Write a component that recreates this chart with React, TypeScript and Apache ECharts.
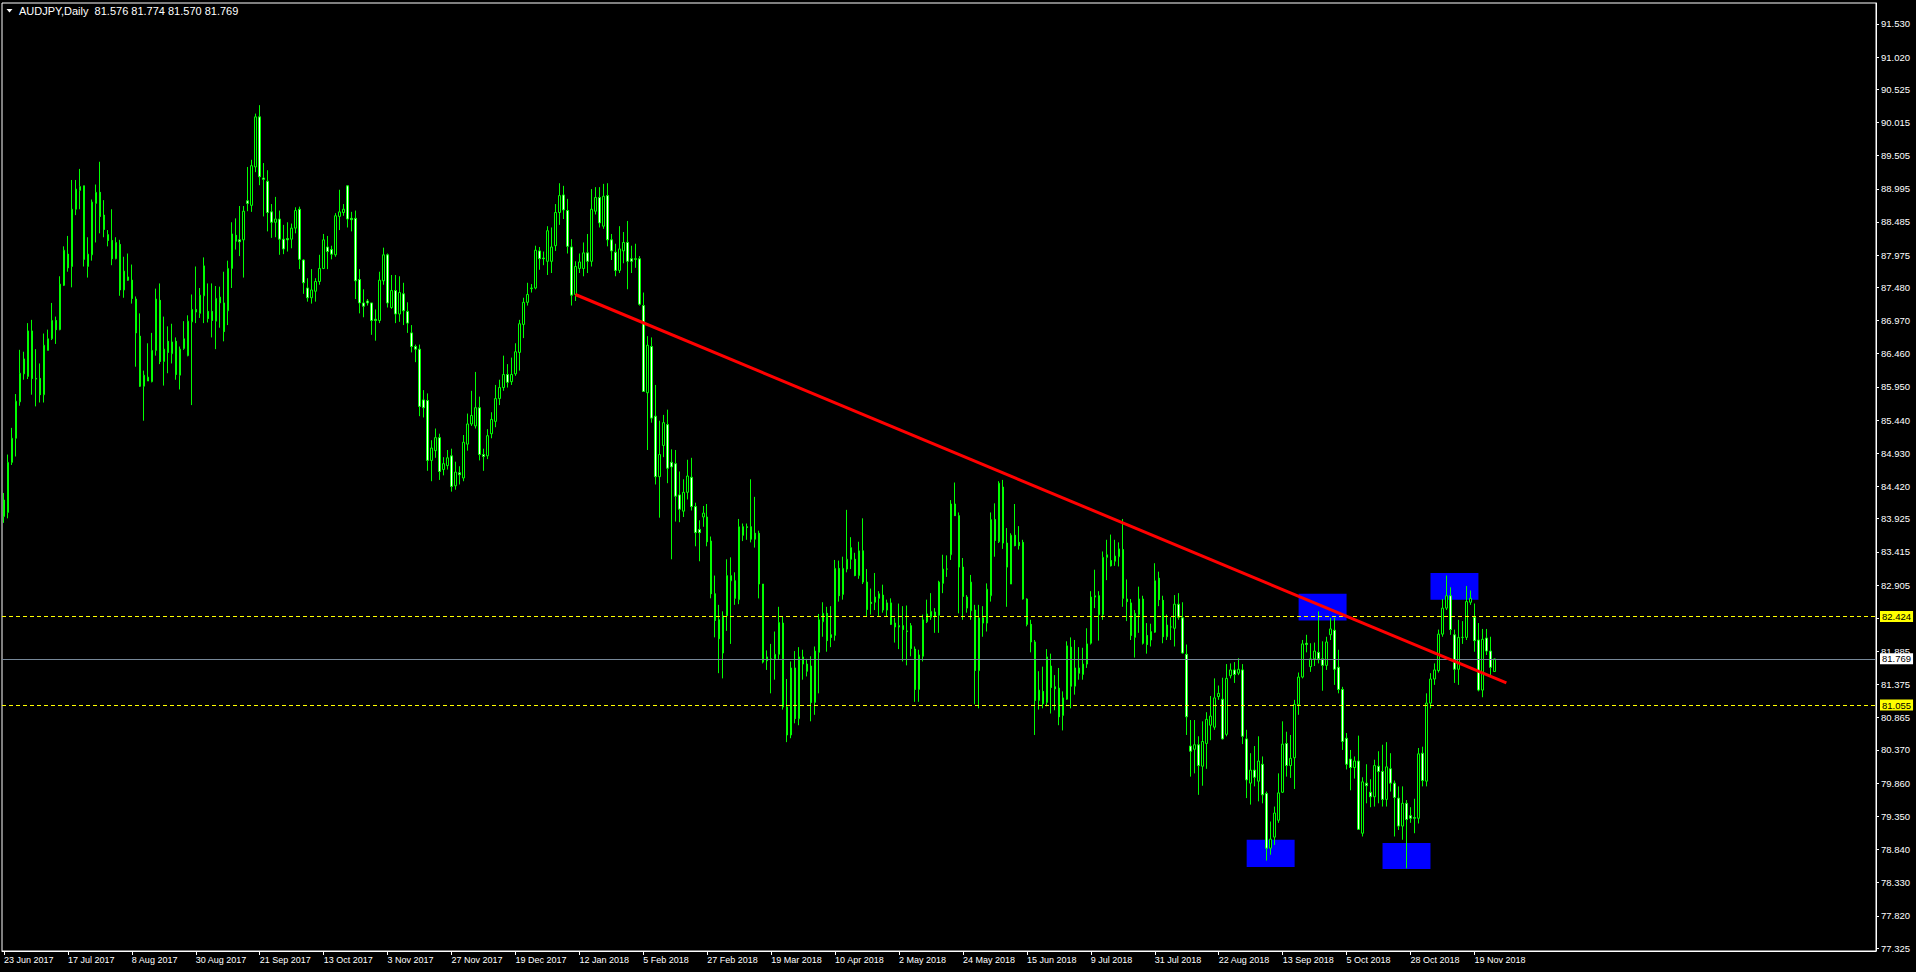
import React, { useEffect, useRef } from 'react';
import * as echarts from 'echarts';

const symbolName = 'AUDJPY,Daily';

const dateLabels = [
  '23 Jun 2017', '17 Jul 2017', '8 Aug 2017', '30 Aug 2017', '21 Sep 2017', '13 Oct 2017',
  '3 Nov 2017', '27 Nov 2017', '19 Dec 2017', '12 Jan 2018', '5 Feb 2018', '27 Feb 2018',
  '19 Mar 2018', '10 Apr 2018', '2 May 2018', '24 May 2018', '15 Jun 2018', '9 Jul 2018',
  '31 Jul 2018', '22 Aug 2018', '13 Sep 2018', '5 Oct 2018', '28 Oct 2018', '19 Nov 2018',
];
const barsPerLabel = 16;
const barSlots = 469;

const yTickLabels = [
  '91.530', '91.020', '90.525', '90.015', '89.505', '88.995', '88.485', '87.975', '87.480',
  '86.970', '86.460', '85.950', '85.440', '84.930', '84.420', '83.925', '83.415', '82.905',
  '82.395', '81.885', '81.375', '80.865', '80.370', '79.860', '79.350', '78.840', '78.330',
  '77.820', '77.325',
];
const priceMin = 77.28;
const priceMax = 91.85;

// [open, high, low, close]
const candlesJun17Sep17 = [
  [84.21, 84.32, 83.86, 83.96], [84.02, 84.91, 83.93, 84.79], [84.79, 85.32, 84.75, 85.16], [85.16, 85.84, 84.88, 85.73],
  [85.72, 86.52, 85.66, 86.16], [86.15, 86.49, 86.06, 86.38], [86.11, 86.93, 86.07, 86.81], [86.81, 86.98, 85.83, 86.08],
  [86.08, 86.53, 85.65, 86.07], [86.08, 86.31, 85.71, 85.83], [85.83, 86.77, 85.71, 86.59], [86.51, 86.83, 86.51, 86.69],
  [86.69, 87.24, 86.67, 86.97], [86.97, 87.03, 86.61, 86.83], [86.83, 87.65, 86.82, 87.53], [87.51, 88.11, 87.50, 88.05],
  [87.99, 88.27, 87.72, 87.78], [87.80, 89.13, 87.48, 88.68], [88.68, 89.13, 88.59, 88.99], [88.97, 89.30, 88.68, 89.03],
  [89.04, 89.04, 87.80, 87.91], [87.80, 88.25, 87.63, 87.99], [87.98, 88.83, 87.89, 88.79], [88.77, 89.06, 88.17, 88.94],
  [88.94, 89.41, 88.31, 88.57], [88.59, 88.82, 88.25, 88.37], [88.29, 88.36, 88.11, 88.20], [88.20, 88.68, 87.82, 87.92],
  [87.92, 88.25, 87.91, 88.17], [88.14, 88.21, 87.35, 87.44], [87.44, 87.95, 87.32, 87.73], [87.64, 88.00, 87.58, 87.59],
  [87.59, 87.83, 87.23, 87.31], [87.30, 87.34, 86.26, 86.78], [86.73, 87.08, 85.95, 85.96], [85.96, 86.20, 85.43, 86.13],
  [86.04, 86.62, 86.04, 86.10], [86.03, 86.78, 86.02, 86.51], [86.51, 87.46, 86.43, 87.30], [87.28, 87.54, 86.30, 86.34],
  [86.34, 87.03, 85.97, 86.53], [86.65, 86.88, 86.16, 86.48], [86.46, 86.92, 86.31, 86.64], [86.65, 86.71, 86.06, 86.14],
  [86.13, 86.57, 85.91, 86.53], [86.54, 86.96, 86.52, 86.69], [86.43, 87.05, 86.42, 86.96], [86.95, 87.37, 85.67, 87.14],
  [87.14, 87.80, 86.93, 87.10], [87.08, 87.47, 87.01, 87.36],
];
const candlesSep17Nov17 = [
  [87.35, 87.94, 86.93, 87.81], [87.11, 87.54, 86.94, 87.00], [87.11, 87.54, 86.71, 86.97], [86.96, 87.50, 86.53, 87.31],
  [87.24, 87.49, 86.86, 87.33], [87.24, 87.72, 86.65, 86.80], [87.12, 87.89, 86.90, 87.77], [87.77, 88.48, 87.47, 88.30],
  [88.28, 88.54, 88.06, 88.19], [88.21, 88.73, 87.96, 88.18], [88.21, 88.73, 87.63, 88.65], [88.81, 89.33, 88.65, 88.77],
  [88.74, 89.44, 88.64, 89.35], [89.33, 90.15, 89.25, 90.10], [90.10, 90.28, 89.05, 89.18], [89.16, 89.39, 88.57, 89.14],
  [89.11, 89.28, 88.34, 88.63], [88.64, 88.76, 88.24, 88.48], [88.48, 88.87, 88.25, 88.53], [88.53, 88.66, 87.98, 88.22],
  [88.22, 88.44, 87.99, 88.07], [88.23, 88.48, 88.03, 88.21], [88.22, 88.46, 88.08, 88.39], [88.39, 88.71, 88.31, 88.66],
  [88.68, 88.72, 87.76, 87.91], [87.90, 87.91, 87.38, 87.55], [87.47, 87.62, 87.26, 87.32], [87.32, 87.76, 87.23, 87.44],
  [87.42, 87.62, 87.26, 87.57], [87.57, 87.98, 87.52, 87.77], [87.77, 88.30, 87.76, 88.21], [88.10, 88.27, 87.76, 88.03],
  [88.06, 88.12, 87.91, 87.99], [87.98, 88.62, 87.95, 88.58], [88.57, 88.98, 88.36, 88.64], [88.63, 88.76, 88.58, 88.68],
  [89.04, 89.05, 88.40, 88.53], [88.54, 88.64, 88.34, 88.52], [88.54, 88.66, 87.30, 87.58], [87.60, 87.76, 87.08, 87.24],
  [87.24, 87.45, 87.02, 87.19], [87.27, 87.30, 87.20, 87.24], [87.24, 87.24, 86.75, 86.97], [86.99, 87.14, 86.66, 86.97],
  [86.97, 87.72, 86.93, 87.59], [87.58, 88.09, 87.52, 87.98], [87.98, 88.00, 87.17, 87.24], [87.17, 87.67, 87.15, 87.43],
  [87.43, 87.67, 86.93, 87.07],
];
const candlesNov17Mar18 = [
  [87.07, 87.65, 86.95, 87.40], [87.38, 87.55, 86.90, 87.12], [87.11, 87.25, 86.78, 86.93], [86.78, 86.90, 86.48, 86.57],
  [86.57, 86.60, 86.33, 86.53], [86.53, 86.60, 85.50, 85.65], [85.75, 85.90, 85.48, 85.63], [85.74, 85.85, 84.66, 84.82],
  [84.82, 85.13, 84.50, 85.01], [84.97, 85.31, 84.86, 85.17], [85.17, 85.23, 84.52, 84.65], [84.68, 84.87, 84.59, 84.77],
  [84.74, 84.98, 84.68, 84.86], [84.89, 85.00, 84.34, 84.42], [84.43, 84.80, 84.37, 84.64], [84.63, 84.73, 84.45, 84.60],
  [84.55, 85.21, 84.50, 85.10], [85.07, 85.54, 84.97, 85.38], [85.38, 85.89, 85.35, 85.51], [85.35, 86.18, 85.31, 85.63],
  [85.63, 85.80, 84.82, 84.91], [84.91, 85.00, 84.66, 84.88], [84.89, 85.30, 84.84, 85.20], [85.23, 85.56, 85.16, 85.45],
  [85.42, 85.98, 85.33, 85.77], [85.77, 86.06, 85.67, 85.94], [85.94, 86.43, 85.89, 86.14], [86.14, 86.30, 85.94, 86.02],
  [86.03, 86.40, 85.98, 86.14], [86.15, 86.62, 86.12, 86.49], [86.48, 86.98, 86.20, 86.92], [86.91, 87.32, 86.70, 87.25],
  [87.25, 87.55, 87.20, 87.37], [87.46, 87.53, 87.40, 87.47], [87.47, 88.12, 87.45, 88.05], [88.04, 88.10, 87.75, 87.92],
  [87.93, 88.03, 87.82, 87.92], [87.88, 88.42, 87.67, 88.35], [87.88, 88.40, 87.70, 88.10], [88.12, 88.76, 88.04, 88.63],
  [88.63, 89.08, 88.44, 88.89], [88.90, 89.04, 88.53, 88.67], [88.66, 88.84, 88.00, 88.11], [88.10, 88.22, 87.20, 87.36],
  [87.37, 87.88, 87.27, 87.80], [87.77, 88.00, 87.70, 87.87], [87.77, 88.17, 87.65, 88.01], [88.01, 88.30, 87.70, 87.88],
  [87.88, 88.99, 87.80, 88.68], [88.65, 89.02, 88.60, 88.86], [88.86, 89.02, 88.40, 88.47], [88.42, 89.07, 88.38, 88.88],
  [88.89, 89.08, 88.11, 88.21], [88.21, 88.30, 87.90, 88.04], [88.02, 88.15, 87.65, 87.74], [87.74, 88.42, 87.70, 88.07],
  [88.04, 88.33, 87.85, 88.17], [88.17, 88.50, 87.45, 87.88], [87.92, 88.12, 87.70, 87.88], [87.92, 88.15, 87.78, 87.91],
  [87.92, 87.96, 87.20, 87.22], [87.20, 87.40, 85.88, 85.88], [85.86, 86.73, 84.98, 86.59], [86.57, 86.71, 85.40, 85.47],
  [85.50, 85.98, 84.45, 84.57], [84.57, 85.43, 83.94, 84.91], [85.05, 85.52, 84.87, 85.40], [85.37, 85.60, 84.47, 84.70],
  [84.79, 84.99, 83.30, 84.72], [84.77, 84.98, 83.88, 84.27], [84.29, 84.65, 83.87, 84.07], [84.04, 84.53, 83.95, 84.33],
  [84.33, 84.83, 84.22, 84.58], [84.56, 84.86, 84.05, 84.11], [84.11, 84.17, 83.50, 83.71], [83.76, 83.90, 83.27, 83.71],
  [83.95, 84.12, 83.80, 84.01], [83.95, 84.15, 83.50, 83.57], [83.58, 83.65, 82.70, 82.77], [82.77, 83.05, 82.10, 82.36],
  [82.37, 82.60, 81.55, 82.08], [81.86, 82.50, 81.47, 82.43], [82.43, 83.30, 82.20, 83.05], [82.97, 83.33, 82.00, 83.05],
  [82.97, 83.10, 82.60, 82.70], [82.68, 83.92, 82.61, 83.80], [83.80, 83.85, 83.58, 83.67], [83.80, 83.85, 83.60, 83.79],
  [83.80, 84.53, 83.56, 83.61], [83.70, 84.26, 83.48, 83.61], [83.70, 83.74, 82.70, 82.92], [82.92, 82.92, 81.70, 81.72],
  [81.80, 81.90, 81.60, 81.74],
];
const candlesMar18Aug18 = [
  [81.77, 82.00, 81.24, 81.76], [81.77, 82.19, 81.45, 81.84], [81.84, 82.57, 81.76, 82.33], [82.32, 82.42, 80.99, 81.03],
  [81.03, 81.46, 80.49, 80.60], [80.60, 81.73, 80.55, 81.63], [81.63, 81.89, 80.78, 80.85], [80.85, 81.95, 80.75, 81.80],
  [81.80, 81.91, 81.45, 81.69], [81.69, 81.77, 81.50, 81.58], [81.66, 81.81, 80.81, 81.10], [81.10, 81.96, 80.91, 81.89],
  [81.87, 82.46, 81.24, 82.37], [82.34, 82.64, 82.11, 82.47], [82.47, 82.57, 81.88, 82.05], [82.14, 82.58, 81.95, 82.10],
  [82.13, 83.29, 82.05, 83.16], [83.16, 83.28, 82.65, 82.74], [82.76, 83.34, 82.68, 83.16], [83.15, 84.06, 83.10, 83.30],
  [83.30, 83.64, 83.15, 83.48], [83.30, 83.40, 83.04, 83.05], [83.05, 83.57, 83.00, 83.43], [83.43, 83.93, 82.92, 82.95],
  [82.95, 83.15, 82.42, 82.53], [82.64, 82.85, 82.45, 82.62], [82.64, 83.09, 82.52, 82.72], [82.70, 82.81, 82.43, 82.77],
  [82.75, 82.91, 82.48, 82.52], [82.52, 82.68, 82.42, 82.63], [82.63, 82.70, 82.29, 82.30], [82.32, 82.40, 82.02, 82.26],
  [82.28, 82.62, 81.92, 82.26], [82.28, 82.58, 81.73, 82.22], [82.20, 82.59, 81.67, 82.19], [82.28, 82.32, 81.81, 81.93],
  [81.92, 81.96, 81.11, 81.30], [81.30, 81.91, 81.11, 81.83], [81.81, 82.45, 81.73, 82.37], [82.34, 82.68, 82.32, 82.46],
  [82.41, 82.78, 82.37, 82.50], [82.42, 82.55, 82.17, 82.49], [82.44, 82.97, 82.17, 82.95], [82.93, 83.37, 82.78, 83.15],
  [83.15, 83.36, 83.03, 83.15], [83.37, 84.21, 83.29, 84.15], [84.15, 84.48, 83.97, 83.97], [83.97, 84.02, 82.47, 83.18],
  [83.18, 83.32, 82.37, 82.73], [82.72, 82.75, 82.48, 82.55], [82.51, 83.06, 82.37, 82.95], [82.52, 82.60, 81.07, 81.59],
  [81.59, 82.60, 81.01, 82.40], [82.40, 82.58, 82.11, 82.32], [82.32, 82.93, 82.19, 82.84], [82.74, 84.02, 82.65, 83.91],
  [83.91, 84.16, 83.34, 83.59], [83.57, 84.50, 83.55, 84.47], [84.41, 84.52, 83.46, 83.55], [83.55, 83.78, 82.57, 83.18],
  [82.92, 83.70, 82.92, 83.67], [83.67, 84.15, 83.50, 83.51], [83.56, 83.81, 83.45, 83.51], [83.56, 83.60, 82.68, 82.69],
  [82.69, 82.70, 82.27, 82.30], [82.30, 82.37, 81.87, 82.03], [82.03, 82.06, 80.60, 81.13], [81.13, 81.58, 80.99, 81.29],
  [81.27, 81.65, 81.01, 81.08], [81.10, 81.92, 81.04, 81.80], [81.66, 81.85, 80.93, 81.33], [81.34, 81.52, 80.98, 81.31],
  [81.32, 81.63, 80.75, 80.88], [80.90, 81.27, 80.67, 81.17], [81.15, 82.04, 81.14, 81.97], [81.95, 82.10, 81.01, 81.35],
  [81.35, 82.06, 81.22, 81.63], [81.63, 81.95, 81.45, 81.55], [81.53, 81.94, 81.45, 81.69], [81.69, 82.24, 81.63, 82.00],
  [82.01, 82.81, 81.99, 82.72], [82.72, 83.14, 82.55, 82.74], [82.74, 82.81, 82.05, 82.45], [82.45, 83.42, 82.37, 83.33],
  [83.33, 83.60, 82.98, 83.37], [83.28, 83.68, 83.19, 83.20], [83.27, 83.60, 83.20, 83.35], [83.34, 83.56, 83.19, 83.46],
  [83.45, 83.92, 82.57, 82.70], [82.69, 82.99, 82.35, 82.65], [82.63, 82.69, 82.06, 82.13], [82.10, 82.52, 81.79, 82.47],
  [82.45, 82.88, 82.17, 82.69], [82.69, 82.74, 81.99, 82.01], [82.13, 82.32, 81.85, 81.99], [82.06, 82.31, 81.96, 82.19],
  [82.18, 83.24, 82.17, 82.97], [83.01, 83.11, 82.58, 82.68], [82.67, 82.74, 82.01, 82.11], [82.11, 82.45, 82.06, 82.29],
];
const candlesAug18Nov18 = [
  [82.26, 82.41, 82.06, 82.26], [82.24, 82.75, 81.96, 82.61], [82.61, 82.78, 82.37, 82.41], [82.40, 82.64, 81.85, 81.86],
  [81.84, 81.99, 80.60, 80.88], [80.43, 80.83, 79.96, 80.35], [80.38, 80.83, 80.01, 80.45], [80.45, 80.58, 79.68, 80.13],
  [80.12, 80.81, 79.82, 80.50], [80.47, 80.95, 80.08, 80.84], [80.75, 81.20, 80.52, 80.89], [80.72, 81.47, 80.68, 81.17],
  [81.19, 81.36, 81.14, 81.24], [81.15, 81.48, 80.53, 80.54], [80.61, 81.69, 80.58, 81.47], [81.51, 81.70, 81.47, 81.60],
  [81.60, 81.72, 81.40, 81.53], [81.55, 81.78, 81.52, 81.61], [81.60, 81.69, 80.46, 80.58], [80.54, 80.68, 79.63, 79.91],
  [79.86, 80.32, 79.53, 80.06], [80.06, 80.43, 79.81, 79.95], [79.89, 80.58, 79.58, 80.20], [80.15, 80.27, 79.55, 79.68],
  [79.70, 79.73, 78.67, 78.86], [78.86, 79.27, 78.76, 79.00], [79.03, 79.50, 78.91, 79.40], [79.29, 80.01, 79.25, 79.71],
  [79.72, 80.81, 79.71, 80.46], [80.47, 80.65, 79.96, 80.13], [80.13, 80.60, 79.94, 80.24], [80.25, 81.14, 79.77, 81.07],
  [81.07, 81.56, 80.91, 81.49], [81.49, 82.06, 81.47, 82.00], [82.01, 82.14, 81.87, 81.99], [81.65, 82.01, 81.57, 81.77],
  [81.77, 82.02, 81.66, 81.89], [81.87, 82.50, 81.70, 81.77], [81.77, 82.04, 81.28, 81.67], [81.67, 82.11, 81.60, 82.03],
  [82.14, 82.40, 82.06, 82.23], [82.21, 82.40, 81.37, 81.61], [81.64, 81.91, 81.24, 81.30], [81.30, 81.34, 80.37, 80.50],
  [80.55, 80.63, 80.07, 80.15], [80.23, 80.37, 79.75, 80.10], [80.10, 80.27, 79.93, 80.20], [80.20, 80.59, 79.14, 79.15],
  [79.09, 79.95, 79.04, 79.88], [79.86, 80.15, 79.55, 79.82], [79.72, 79.92, 79.49, 79.65], [79.65, 80.22, 79.50, 80.13],
  [80.12, 80.35, 79.55, 80.04], [80.04, 80.45, 79.50, 79.61], [79.61, 80.49, 79.50, 80.11], [80.08, 80.32, 79.73, 79.86],
  [79.86, 79.90, 79.04, 79.64], [79.63, 79.81, 79.14, 79.20], [79.20, 79.81, 78.99, 79.55], [79.55, 79.60, 78.55, 79.30],
  [79.36, 79.49, 79.25, 79.32], [79.33, 79.62, 79.09, 79.32], [79.32, 80.40, 79.24, 80.31], [80.32, 80.42, 79.81, 79.90],
  [79.89, 81.24, 79.81, 81.09], [81.09, 81.55, 81.01, 81.46], [81.46, 81.70, 81.37, 81.60], [81.59, 82.22, 81.56, 82.15],
  [82.15, 82.69, 82.11, 82.55], [82.55, 83.05, 82.52, 82.74], [82.74, 82.87, 82.14, 82.22], [82.14, 82.22, 81.40, 81.61],
  [81.61, 82.37, 81.37, 82.10], [82.10, 82.35, 82.00, 82.10], [82.10, 82.89, 82.06, 82.65], [82.64, 82.82, 82.60, 82.70],
  [82.41, 82.62, 81.88, 82.05], [82.06, 82.32, 81.27, 81.29], [81.29, 82.23, 81.18, 82.07], [82.09, 82.23, 81.83, 81.89],
  [81.89, 82.11, 81.52, 81.64], [81.576, 81.774, 81.570, 81.769],
];

const levelPrices = [82.424, 81.055];
const bidPrice = 81.769;
// trend line: [bar index, price]
const trendFrom = [143, 87.37];
const trendTo = [376, 81.4];
// zones: corner pairs [bar index, price]
const zoneCorners = [
  [[324, 82.77], [336, 82.36]],
  [[357, 83.09], [369, 82.68]],
  [[345, 78.94], [357, 78.54]],
  [[311, 78.99], [323, 78.57]],
];

const FONT = "'Liberation Sans', Arial, sans-serif";
const FS_Y = 9.5;
const FS_X = 9;
const FS_HEADER = 11;

export default function App() {
  const ref = useRef<HTMLDivElement>(null);
  useEffect(() => {
    if (!ref.current) return;
    document.body.style.margin = '0';
    document.body.style.background = '#000';
    const chart = echarts.init(ref.current, null, { renderer: 'svg' });

    const candles = [
      ...candlesJun17Sep17, ...candlesSep17Nov17, ...candlesNov17Mar18,
      ...candlesMar18Aug18, ...candlesAug18Nov18,
    ];
    const seriesData = candles.map(([o, h, l, c]) => [o, c, l, h]);
    const categories = Array.from({ length: barSlots }, (_, i) =>
      i % barsPerLabel === 0 && i / barsPerLabel < dateLabels.length ? dateLabels[i / barsPerLabel] : ''
    );
    const showLabel = (i: number) => i % barsPerLabel === 0 && i / barsPerLabel < dateLabels.length;
    const yVals = yTickLabels.map(Number);
    const last = candles[candles.length - 1];
    const header = `${symbolName}\u00a0\u00a0${last.map((v) => v.toFixed(3)).join(' ')}`;

    const levelLabel = (price: number, bg: string) => ({
      show: true,
      position: 'end',
      distance: 4,
      formatter: () => price.toFixed(3),
      backgroundColor: bg,
      color: '#000',
      fontSize: FS_Y,
      lineHeight: 11,
      fontFamily: FONT,
      padding: [0, 2, 0, 2],
    });

    chart.setOption({
      animation: false,
      backgroundColor: '#000',
      textStyle: { fontFamily: FONT },
      graphic: [
        { type: 'polygon', shape: { points: [[6.5, 9], [12.5, 9], [9.5, 12.5]] }, style: { fill: '#fff' }, silent: true },
        {
          type: 'text', x: 19, y: 11,
          style: { text: header, fill: '#fff', fontSize: FS_HEADER, fontFamily: FONT, verticalAlign: 'middle' },
          silent: true,
        },
      ],
      grid: {
        left: 2, right: 40, top: 3, bottom: 21,
        show: true, borderColor: '#fff', borderWidth: 1, backgroundColor: 'transparent',
      },
      xAxis: {
        type: 'category',
        data: categories,
        boundaryGap: true,
        axisLine: { show: true, lineStyle: { color: '#fff', width: 1 } },
        axisTick: { show: true, alignWithLabel: true, interval: (i: number) => showLabel(i), length: 4, lineStyle: { color: '#fff' } },
        axisLabel: {
          interval: (i: number) => showLabel(i),
          color: '#fff', fontSize: FS_X, fontFamily: FONT, align: 'left', margin: 4, hideOverlap: false,
        },
        splitLine: { show: false },
      },
      yAxis: {
        type: 'value',
        position: 'right',
        min: priceMin,
        max: priceMax,
        axisLine: { show: true, lineStyle: { color: '#fff', width: 1 } },
        axisTick: { show: true, length: 3, customValues: yVals, lineStyle: { color: '#fff' } },
        axisLabel: {
          customValues: yVals,
          formatter: (v: number) => v.toFixed(3),
          color: '#fff', fontSize: FS_Y, fontFamily: FONT, margin: 5,
        },
        splitLine: { show: false },
      },
      series: [
        {
          type: 'candlestick',
          data: seriesData,
          barWidth: 2,
          emphasis: { disabled: true },
          itemStyle: {
            color: '#000000',
            color0: '#ffffff',
            borderColor: '#00ff00',
            borderColor0: '#00ff00',
            borderColorDoji: '#00ff00',
            borderWidth: 1,
          },
          markArea: {
            silent: true,
            itemStyle: { color: '#0000ff', opacity: 1, borderWidth: 0 },
            label: { show: false },
            data: zoneCorners.map(([a, b]) => [{ coord: a }, { coord: b }]),
          },
          markLine: {
            silent: true,
            symbol: ['none', 'none'],
            animation: false,
            data: [
              ...levelPrices.map((p) => ({
                yAxis: p,
                lineStyle: { color: '#ffff00', width: 1, type: [4, 3] },
                label: levelLabel(p, '#ffff00'),
              })),
              {
                yAxis: bidPrice,
                lineStyle: { color: '#778899', width: 1, type: 'solid' },
                label: levelLabel(bidPrice, '#ffffff'),
              },
              [
                { coord: trendFrom, lineStyle: { color: '#ff0000', width: 3, type: 'solid' }, label: { show: false } },
                { coord: trendTo },
              ],
            ],
          },
        },
      ],
    });
    return () => chart.dispose();
  }, []);
  return (
    <div
      ref={ref}
      style={{ position: 'fixed', left: 0, top: 0, width: 1916, height: 972, background: '#000' }}
    />
  );
}
